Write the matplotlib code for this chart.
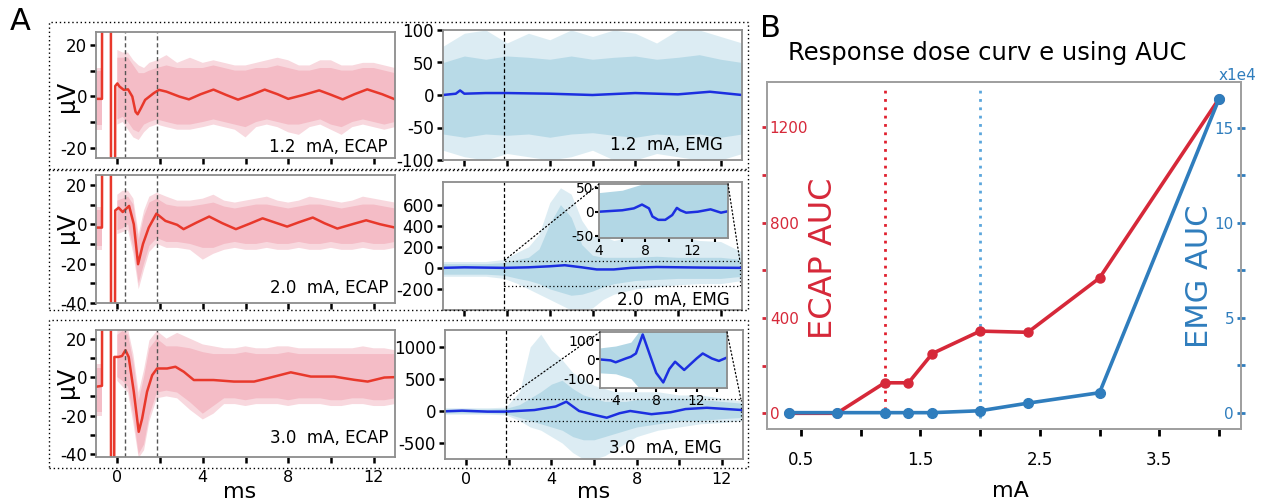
import numpy as np
import matplotlib.pyplot as plt
from matplotlib.patches import Rectangle, ConnectionPatch
from matplotlib.ticker import MultipleLocator

# =====================================================
# DATA
# =====================================================

# ---- ECAP mean traces (ms, uV); +/-300 = stimulus artifact off scale ----
ecap_t1 = [-1.0, -0.72, -0.68, -0.32, -0.28, -0.16, -0.1, 0.0, 0.1, 0.3, 0.5, 0.7, 0.85,
           0.95, 1.1, 1.3, 1.7, 1.95, 2.3, 2.9, 3.35, 3.9, 4.5, 5.1, 5.65, 6.3, 6.9, 7.5,
           8.0, 8.7, 9.45, 10.0, 10.55, 11.1, 11.7, 12.4, 13.0]
ecap_v1 = [-1.0, -1.0, 300, 300, -300, -300, 4.0, 5.0, 3.8, 2.5, 2.7, -0.1, -6.0,
           -7.0, -4.7, -1.4, 1.2, 2.5, 1.8, -0.1, -1.2, 0.8, 2.6, 0.5, -1.3, 0.6, 2.6, 0.8,
           -1.0, 0.5, 2.3, 0.6, -1.2, 0.8, 2.7, 0.8, -1.2]

ecap_t2 = [-1.0, -0.72, -0.68, -0.32, -0.28, -0.16, -0.1, 0.06, 0.25, 0.55, 0.77, 0.97,
           1.2, 1.47, 1.83, 2.25, 2.8, 3.1, 3.7, 4.3, 4.9, 5.55, 6.2, 6.8, 7.4, 7.95,
           8.5, 9.15, 9.7, 10.3, 11.0, 11.65, 12.3, 13.0]
ecap_v2 = [-1.7, -1.7, 300, 300, -300, -300, 7.0, 8.4, 6.2, 9.3, 0.0, -20.3,
           -10.0, -1.7, 5.4, 1.7, -0.3, -2.5, 0.8, 3.9, 0.6, -2.5, 0.3, 3.0, 0.8, -1.2,
           1.0, 3.4, 0.5, -2.2, 0.0, 2.0, 0.0, -1.7]

ecap_t3 = [-1.0, -0.72, -0.68, -0.32, -0.28, -0.18, -0.14, 0.05, 0.22, 0.38, 0.53, 0.77,
           1.0, 1.16, 1.39, 1.63, 1.86, 2.33, 2.72, 3.11, 3.58, 4.5, 5.46, 6.4, 7.03,
           8.12, 9.06, 10.15, 11.1, 11.72, 12.5, 13.0]
ecap_v3 = [-5.0, -4.5, 300, 300, -300, -300, 10.5, 10.5, 11.0, 14.0, 10.5, -7.6,
           -28.4, -21.5, -7.6, 1.0, 4.5, 4.5, 5.4, 2.8, -1.5, -1.5, -2.3, -2.3, -0.6,
           2.5, 0.3, 0.3, -1.4, -2.3, -0.2, 0.0]

# ---- ECAP single-trial spread (dense band and outer spikes), nan = off scale ----
ecap_env_t = [-1.0, -0.7, -0.35, 0.0, 0.25, 0.5, 0.75, 1.0, 1.25, 1.5, 1.85, 2.3, 2.8,
              3.4, 4.0, 4.5, 5.0, 5.5, 6.0, 6.5, 7.0, 7.5, 8.0, 8.5, 9.0, 9.5, 10.0,
              10.5, 11.0, 11.5, 12.0, 12.5, 13.0]
nan = np.nan
ecap_up1 = [10, 10, nan, 15, 15, 15, 12, 9, 9, 10, 11, 12, 11, 11, 11, 12, 11, 10, 10,
            11, 11, 12, 11, 10, 10, 11, 11, 10, 10, 11, 11, 10, 9]
ecap_lo1 = [-11, -11, nan, -9, -8, -10, -13, -14, -11, -10, -9, -10, -11, -11, -10, -9,
            -10, -11, -12, -10, -9, -10, -11, -11, -10, -9, -11, -12, -10, -9, -10, -11, -10]
ecap_oup1 = [11, 11, nan, 18, 17, 17, 14, 12, 11, 13, 14, 16, 13, 15, 13, 14, 13, 12, 12,
             13, 14, 15, 14, 12, 12, 14, 14, 12, 12, 13, 13, 12, 11]
ecap_olo1 = [-13, -13, nan, -11, -10, -13, -16, -17, -14, -12, -11, -12, -13, -13, -12,
             -11, -12, -13, -16, -12, -11, -12, -14, -15, -12, -11, -13, -15, -12, -11,
             -12, -13, -12]

ecap_up2 = [7, 7, nan, 12, 13, 14, 10, -8, 4, 11, 13, 10, 9, 9, 10, 11, 9, 8, 9, 10, 10,
            9, 8, 9, 10, 10, 9, 8, 9, 10, 10, 9, 8]
ecap_lo2 = [-11, -11, nan, -3, -2, 0, -12, -30, -20, -11, -7, -9, -9, -10, -12, -12, -10,
            -9, -10, -10, -9, -10, -10, -9, -10, -10, -9, -10, -10, -9, -10, -10, -9]
ecap_oup2 = [9, 9, nan, 15, 17, 17, 13, -5, 7, 14, 16, 14, 12, 12, 13, 15, 12, 11, 12, 13,
             14, 12, 11, 12, 14, 13, 12, 11, 12, 14, 13, 12, 11]
ecap_olo2 = [-13, -13, nan, -5, -4, -3, -15, -33, -23, -14, -10, -12, -12, -13, -18, -15,
             -13, -12, -13, -13, -12, -13, -13, -12, -13, -13, -12, -13, -13, -12, -13,
             -13, -12]

ecap_up3 = [5, 5, nan, 22, 24, 22, 8, -12, 0, 15, 20, 16, 16, 15, 13, 12, 12, 12, 13, 12,
            12, 12, 13, 12, 12, 12, 12, 12, 12, 12, 12, 12, 12]
ecap_lo3 = [-18, -18, nan, 0, -2, -5, -20, -40, -35, -20, -8, -7, -8, -13, -19, -15, -11,
            -11, -12, -11, -11, -11, -12, -11, -11, -11, -12, -12, -11, -11, -12, -12, -11]
ecap_oup3 = [7, 7, nan, 25, 25, 25, 12, -8, 4, 19, 24, 20, 23, 20, 17, 16, 15, 15, 16, 15,
             15, 16, 16, 15, 15, 15, 15, 15, 15, 16, 15, 15, 14]
ecap_olo3 = [-20, -20, nan, -2, -5, -8, -24, -42, -38, -23, -11, -10, -11, -17, -22, -19,
             -14, -14, -15, -14, -14, -14, -15, -14, -14, -14, -15, -15, -14, -14, -15,
             -15, -14]

# ---- EMG mean traces (ms, uV) ----
emg_t1 = [-1, -0.4, -0.2, 0.0, 1, 2, 4, 6, 8, 10, 11.5, 13]
emg_v1 = [0, 2, 7, 2, 3, 3, 2, 0, 3, 1, 5, 0]
emg_t2 = [-1, 0, 1.85, 3.0, 4.0, 4.7, 5.5, 6.2, 7.0, 7.8, 9.0, 11.0, 13.0]
emg_v2 = [0, 5, 0, 5, 15, 25, 5, -15, -15, 0, 8, 3, 0]
emg_t3 = [-1, -0.2, 1.0, 1.85, 3.2, 4.2, 4.7, 5.3, 6.0, 6.6, 7.2, 7.7, 8.7, 9.6, 10.3,
          11.3, 12.95]
emg_v3 = [-5, 5, -10, -10, 15, 70, 145, 0, -60, -105, -35, 0, -50, -20, 30, 50, 15]

# ---- EMG single-trial spread ----
emg_env_t1 = [-1, 0, 1, 2, 3, 4, 5, 6, 7, 8, 9, 10, 11, 12, 13]
emg_up1 = [50, 60, 55, 60, 58, 55, 60, 55, 58, 60, 55, 58, 62, 55, 50]
emg_lo1 = [-60, -65, -60, -62, -60, -65, -60, -58, -62, -65, -60, -62, -60, -65, -60]
emg_oup1 = [75, 95, 100, 80, 95, 85, 100, 90, 100, 95, 80, 100, 100, 90, 80]
emg_olo1 = [-85, -95, -100, -90, -95, -100, -95, -85, -100, -100, -90, -95, -100, -100, -90]

emg_env_t2 = [-1, 0, 1, 1.85, 2.5, 3, 3.5, 4, 4.5, 5, 5.5, 6, 6.5, 7, 8, 9, 10, 11, 12, 13]
emg_up2 = [40, 40, 40, 50, 80, 100, 180, 420, 600, 480, 220, 120, 100, 100, 100, 110,
           100, 100, 100, 80]
emg_lo2 = [-60, -60, -60, -70, -100, -120, -150, -200, -230, -260, -250, -220, -180,
           -150, -120, -110, -100, -100, -100, -80]
emg_oup2 = [60, 60, 60, 80, 150, 200, 320, 620, 760, 700, 450, 300, 300, 260, 300, 320,
            300, 260, 250, 150]
emg_olo2 = [-80, -80, -80, -100, -150, -200, -250, -300, -350, -400, -400, -380, -300,
            -250, -200, -180, -160, -150, -150, -120]

emg_env_t3 = [-1, 0, 1, 1.85, 2.5, 3, 3.5, 4, 4.5, 5, 5.5, 6, 6.5, 7, 7.5, 8, 9, 10, 11,
              12, 13]
emg_up3 = [30, 30, 30, 40, 100, 200, 300, 420, 480, 350, 250, 200, 150, 150, 150, 180,
           200, 200, 180, 150, 120]
emg_lo3 = [-30, -30, -30, -40, -100, -150, -200, -250, -300, -400, -450, -450, -400,
           -350, -300, -250, -200, -150, -150, -120, -100]
emg_oup3 = [50, 50, 50, 60, 300, 1000, 1200, 950, 800, 600, 500, 400, 350, 300, 300, 300,
            300, 250, 250, 200, 150]
emg_olo3 = [-50, -50, -50, -60, -150, -250, -300, -400, -500, -650, -750, -750, -700,
            -600, -500, -400, -300, -250, -200, -180, -150]

# ---- zoom insets ----
ins_t2 = [4.0, 6.0, 7.0, 7.7, 8.3, 8.6, 9.1, 9.7, 10.3, 10.7, 11.0, 11.5, 12.5, 13.6,
          14.5, 15.1]
ins_v2 = [0, 3, 7, 15, 7, -10, -17, -17, -7, 8, 3, -2, 0, 5, -2, 1]
ins_env_t2 = [4.0, 6.0, 8.0, 10.0, 12.0, 15.1]
ins_up2 = [40, 45, 60, 60, 60, 60]
ins_lo2 = [-60, -60, -60, -60, -60, -60]

ins_t3 = [2.45, 3.5, 4.0, 5.0, 5.5, 6.0, 6.67, 7.5, 8.0, 8.7, 9.3, 9.87, 10.77, 12.0,
          12.6, 13.5, 14.2, 15.0]
ins_v3 = [0, -5, -15, 5, 14, 31, 130, 5, -70, -120, -50, -12, -55, 5, 31, 5, -8, 10]
ins_env_t3 = [2.45, 4.0, 5.5, 6.5, 8.0, 10.0, 12.0, 15.0]
ins_up3 = [60, 70, 90, 160, 160, 160, 160, 160]
ins_lo3 = [-70, -75, -100, -160, -160, -160, -160, -160]

row_labels_ecap = ["1.2  mA, ECAP", "2.0  mA, ECAP", "3.0  mA, ECAP"]
row_labels_emg = ["1.2  mA, EMG", "2.0  mA, EMG", "3.0  mA, EMG"]

# ---- panel B: dose response ----
dose_ma = [0.4, 0.8, 1.2, 1.4, 1.6, 2.0, 2.4, 3.0, 4.0]
ecap_auc = [0, 0, 128, 128, 251, 345, 340, 568, 1320]
emg_auc = [0, 0, 0, 0, 0, 0.1, 0.5, 1.05, 16.5]   # x1e4
ecap_thresh = 1.2
emg_thresh = 2.0

# =====================================================
# STYLE
# =====================================================

plt.rcParams["font.family"] = ["DejaVu Sans"]
plt.rcParams["axes.unicode_minus"] = False

pink = "#f4bcc6"
pink_light = "#f8d8de"
red_line = "#e8382b"
lblue = "#b2d7e5"
dblue = "#1c2fe0"
spine_gray = "#8c8c8c"
red_b = "#d62839"
blue_b = "#2f7dbd"

W, H = 1263, 500
fig = plt.figure(figsize=(W / 100, H / 100), dpi=100)


def px_axes(l, t, r, b):
    return fig.add_axes([l / W, 1 - b / H, (r - l) / W, (b - t) / H])


def frame(ax, lsize=12):
    for s in ax.spines.values():
        s.set_color(spine_gray)
        s.set_linewidth(1.3)
    ax.tick_params(which="both", direction="out", length=4.5, width=1.8, color="k",
                   labelsize=lsize, pad=2)


def fig_rect(l, t, r, b):
    fig.add_artist(Rectangle((l / W, 1 - b / H), (r - l) / W, (b - t) / H,
                             transform=fig.transFigure, fill=False, ls=(0, (1, 2)),
                             lw=1.0, color="k"))


# dotted boxes around each row of panel A
fig_rect(49, 22, 748, 169)
fig_rect(49, 170, 748, 310)
fig_rect(49, 320, 748, 468)

# =====================================================
# PANEL A: ECAP
# =====================================================

ecap_pos = [(96, 32, 395, 158), (96, 175, 395, 303), (96, 330, 395, 457)]
ecap_ylims = [(-24, 25), (-40, 25), (-41.5, 24.5)]
ecap_data = [
    (ecap_t1, ecap_v1, ecap_up1, ecap_lo1, ecap_oup1, ecap_olo1),
    (ecap_t2, ecap_v2, ecap_up2, ecap_lo2, ecap_oup2, ecap_olo2),
    (ecap_t3, ecap_v3, ecap_up3, ecap_lo3, ecap_oup3, ecap_olo3),
]
label_y_ecap = [0.05, 0.08, 0.11]

for i in range(3):
    t, v, up, lo, oup, olo = ecap_data[i]
    ax = px_axes(*ecap_pos[i])
    ax.fill_between(ecap_env_t, olo, oup, color=pink_light, lw=0)
    ax.fill_between(ecap_env_t, lo, up, color=pink, lw=0)
    ax.plot(t, v, color=red_line, lw=1.8)
    for xd in [0.35, 1.85]:
        ax.axvline(xd, color="#555555", ls=(0, (3, 2)), lw=1.0)
    ax.set_xlim(-1, 13)
    ax.set_ylim(*ecap_ylims[i])
    ax.yaxis.set_major_locator(MultipleLocator(20))
    ax.yaxis.set_minor_locator(MultipleLocator(10))
    ax.xaxis.set_major_locator(MultipleLocator(4))
    ax.xaxis.set_minor_locator(MultipleLocator(2))
    frame(ax)
    if i < 2:
        ax.tick_params(labelbottom=False)
    else:
        ax.tick_params(axis="x", pad=5, labelsize=11.5)
    ax.text(0.977, label_y_ecap[i], row_labels_ecap[i], transform=ax.transAxes,
            ha="right", va="baseline", fontsize=12)

for yc in [96, 227, 382]:
    fig.text(67 / W, 1 - yc / H, "μV", rotation=90, ha="center", va="center", fontsize=17)

# =====================================================
# PANEL A: EMG
# =====================================================

emg_pos = [(443, 30, 742, 160), (443, 182, 742, 310), (445, 330, 743, 459)]
emg_ylims = [(-100, 100), (-400, 815), (-750, 1265)]
emg_yticks = [[-100, -50, 0, 50, 100], [-200, 0, 200, 400, 600], [-500, 0, 500, 1000]]
emg_data = [
    (emg_t1, emg_v1, emg_env_t1, emg_up1, emg_lo1, emg_oup1, emg_olo1),
    (emg_t2, emg_v2, emg_env_t2, emg_up2, emg_lo2, emg_oup2, emg_olo2),
    (emg_t3, emg_v3, emg_env_t3, emg_up3, emg_lo3, emg_oup3, emg_olo3),
]
label_pos_emg = [(0.936, 0.08), (0.96, 0.04), (0.93, 0.05)]
emg_axes = []

for i in range(3):
    t, v, te, up, lo, oup, olo = emg_data[i]
    ax = px_axes(*emg_pos[i])
    ax.fill_between(te, olo, oup, color=lblue, alpha=0.45, lw=0)
    ax.fill_between(te, lo, up, color=lblue, alpha=0.85, lw=0)
    ax.plot(t, v, color=dblue, lw=1.8)
    ax.axvline(1.85, color="k", ls=(0, (3, 2)), lw=0.9)
    ax.set_xlim(-1, 13)
    ax.set_ylim(*emg_ylims[i])
    ax.set_yticks(emg_yticks[i])
    ax.xaxis.set_major_locator(MultipleLocator(4))
    ax.xaxis.set_minor_locator(MultipleLocator(2))
    frame(ax)
    if i < 2:
        ax.tick_params(labelbottom=False)
    else:
        ax.tick_params(axis="x", pad=5, labelsize=11.5)
    ax.text(label_pos_emg[i][0], label_pos_emg[i][1], row_labels_emg[i],
            transform=ax.transAxes, ha="right", va="baseline", fontsize=12)
    emg_axes.append(ax)

# zoom insets for 2.0 mA and 3.0 mA
inset_pos = [(599, 184, 728, 238), (600, 332, 727, 388)]
inset_xlims = [(4.0, 15.1), (2.45, 15.0)]
inset_ylims = [(-55, 58), (-149, 143)]
inset_yticks = [[-50, 0, 50], [-100, 0, 100]]
inset_data = [
    (ins_t2, ins_v2, ins_env_t2, ins_up2, ins_lo2),
    (ins_t3, ins_v3, ins_env_t3, ins_up3, ins_lo3),
]
zoom_boxes = [(-168, 67), (-152, 187)]

for k in range(2):
    t, v, te, up, lo = inset_data[k]
    main = emg_axes[k + 1]
    ins = px_axes(*inset_pos[k])
    ins.fill_between(te, lo, up, color=lblue, lw=0)
    ins.plot(t, v, color=dblue, lw=1.8)
    ins.set_xlim(*inset_xlims[k])
    ins.set_ylim(*inset_ylims[k])
    ins.set_yticks(inset_yticks[k])
    ins.set_xticks([4, 6, 8, 10, 12, 14])
    ins.set_xticklabels(["4", "", "8", "", "12", ""])
    frame(ins, lsize=10)
    ins.tick_params(length=3, width=1.5, pad=1)

    y0, y1 = zoom_boxes[k]
    main.add_patch(Rectangle((1.85, y0), 12.9 - 1.85, y1 - y0, fill=False,
                             ls=(0, (1, 2)), lw=0.9, color="k", clip_on=False))
    for xa, xb in [(0, 1.85), (1, 12.9)]:
        con = ConnectionPatch(xyA=(xa, 1), coordsA=ins.transAxes,
                              xyB=(xb, y1), coordsB=main.transData,
                              ls=(0, (1, 2)), lw=0.9, color="k")
        fig.add_artist(con)

fig.text(240 / W, 1 - 498 / H, "ms", ha="center", va="baseline", fontsize=16)
fig.text(594 / W, 1 - 498 / H, "ms", ha="center", va="baseline", fontsize=16)
fig.text(10 / W, 1 - 30 / H, "A", ha="left", va="baseline", fontsize=22)

# =====================================================
# PANEL B: dose response
# =====================================================

axB = px_axes(767, 82, 1241, 429)
axB.axvline(ecap_thresh, ymin=0.032, ymax=0.986, color="#e0202f", ls=(0, (1, 2)), lw=2)
axB.axvline(emg_thresh, ymin=0.032, ymax=0.986, color="#5ba6dc", ls=(0, (1, 2)), lw=2)
axB.plot(dose_ma, ecap_auc, "-o", color=red_b, lw=2.6, ms=6.5, zorder=3)
axB.set_xlim(0.215, 4.185)
axB.set_ylim(-66, 1391)

axB2 = axB.twinx()
axB2.plot(dose_ma, emg_auc, "-o", color=blue_b, lw=2.6, ms=7, zorder=3)
axB2.set_ylim(-0.86, 17.4)

for a in (axB, axB2):
    for s in a.spines.values():
        s.set_color("#a0a0a0")
        s.set_linewidth(1.3)

axB.set_xticks(np.arange(0.5, 4.01, 0.5))
axB.set_xticklabels(["0.5", "", "1.5", "", "2.5", "", "3.5", ""])
axB.tick_params(axis="x", direction="out", length=5, width=2, color="k", labelsize=12,
                pad=11)

axB.set_yticks(np.arange(0, 1300, 200))
axB.set_yticklabels(["0", "", "400", "", "800", "", "1200"])
axB.tick_params(axis="y", direction="out", length=3.5, width=2, colors=red_b,
                labelsize=11, pad=-5.5)
for lab in axB.get_yticklabels():
    lab.set_ha("left")

axB2.set_yticks(np.arange(0, 16, 2.5))
axB2.set_yticklabels(["0", "", "5", "", "10", "", "15"])
axB2.tick_params(axis="y", direction="inout", length=6, width=2, colors=blue_b,
                 labelsize=11, pad=-8)
for lab in axB2.get_yticklabels():
    lab.set_ha("right")

fig.text(823 / W, 1 - 258 / H, "ECAP AUC", rotation=90, ha="center", va="center",
         fontsize=23, color=red_b)
fig.text(1200 / W, 1 - 276 / H, "EMG AUC", rotation=90, ha="center", va="center",
         fontsize=22, color=blue_b)
fig.text(1237 / W, 1 - 80 / H, "x1e4", ha="center", va="baseline", fontsize=11,
         color=blue_b)
fig.text(1010 / W, 1 - 497 / H, "mA", ha="center", va="baseline", fontsize=16)
fig.text(987 / W, 1 - 60 / H, "Response dose curv e using AUC", ha="center",
         va="baseline", fontsize=17.5)
fig.text(760 / W, 1 - 37 / H, "B", ha="left", va="baseline", fontsize=22)

fig.savefig("out.png", dpi=100)
